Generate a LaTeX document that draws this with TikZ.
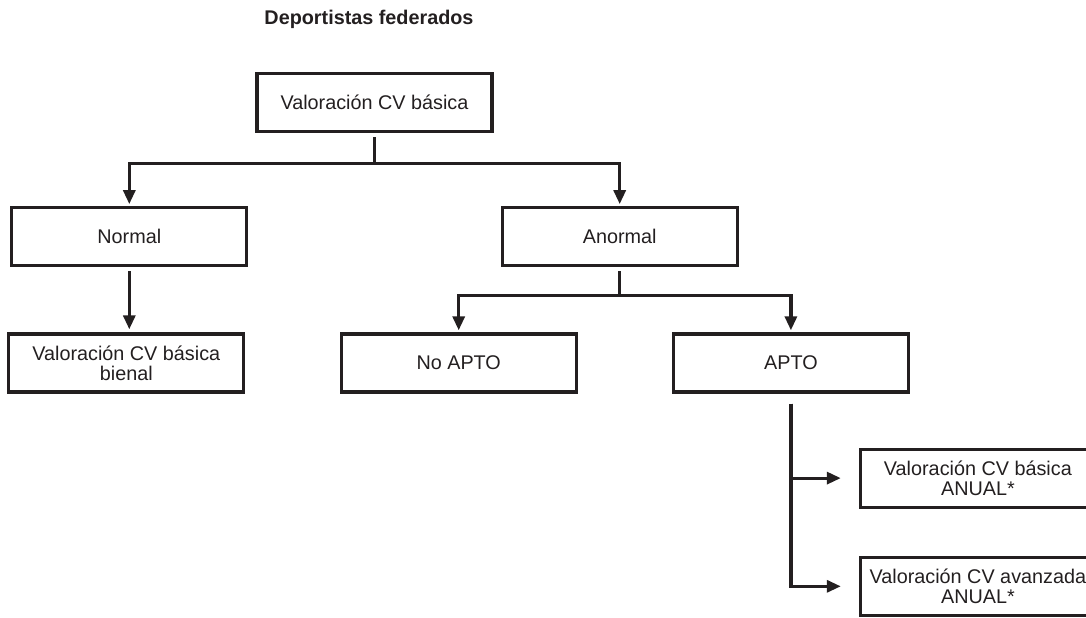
\documentclass[tikz,border=0pt]{standalone}
\usepackage{fontspec}
\setmainfont{Liberation Sans}
\usepackage{tikz}
\usetikzlibrary{positioning, arrows.meta}
\definecolor{ink}{HTML}{231F20}
\tikzset{
    box/.style={
        rectangle, draw=ink, line width=1.6pt,
        minimum width=117.5pt, minimum height=29pt,
        inner sep=1pt, align=center, text=ink
    },
    heading/.style={
        font=\fontsize{9.9}{10}\selectfont\bfseries,
        text=ink, inner sep=0pt
    },
    link/.style={
        draw=ink, line width=1.6pt
    },
    flow/.style={
        draw=ink, line width=1.6pt, -{Triangle[length=7pt, width=6pt]}
    }
}

\begin{document}
\begin{tikzpicture}[
    every node/.style={font=\fontsize{9.9}{10}\selectfont}
]
\useasboundingbox (0,0) rectangle (543pt,-308.5pt);
\clip (0,0) rectangle (543pt,-308.5pt);

\node[box] (basic) at (187.25pt,-51.25pt) {Valoración CV básica};
\node[heading, above=21.5pt of basic, xshift=-2.75pt] (title) {Deportistas federados};

\node[box, below left=36.5pt and 3.5pt of basic] (normal) {Normal};
\node[box, below right=36.5pt and 3.5pt of basic] (abnormal) {Anormal};

\node[box, below=32.5pt of normal, xshift=-1.5pt] (biennial) {Valoración CV básica\\bienal};
\node[box, below=32.5pt of abnormal, xshift=-80.5pt] (unfit) {No APTO};
\node[box, right=47pt of unfit] (fit) {APTO};

\node[box, below=27pt of fit, xshift=93.5pt] (annual) {Valoración CV básica\\ANUAL*};
\node[box, below=23.5pt of annual] (advanced) {Valoración CV avanzada\\ANUAL*};

\coordinate[below=15pt of basic] (split1);
\coordinate[below=14pt of abnormal] (split2);

\draw[link, shorten <=2pt] (basic) -- (split1);
\draw[flow, shorten >=1pt] (split1) -| (normal);
\draw[flow, shorten >=1pt] (split1) -| (abnormal);

\draw[flow, shorten <=2pt, shorten >=1.5pt] (normal) -- (normal |- biennial.north);

\draw[link, shorten <=2pt] (abnormal) -- (split2);
\draw[flow, shorten >=1pt] (split2) -| (unfit);
\draw[flow, shorten >=1pt] (split2) -| (fit);

\draw[flow, shorten <=5pt, shorten >=9pt] (fit) |- (annual);
\draw[flow, shorten <=5pt, shorten >=9pt] (fit) |- (advanced);

\end{tikzpicture}
\end{document}
